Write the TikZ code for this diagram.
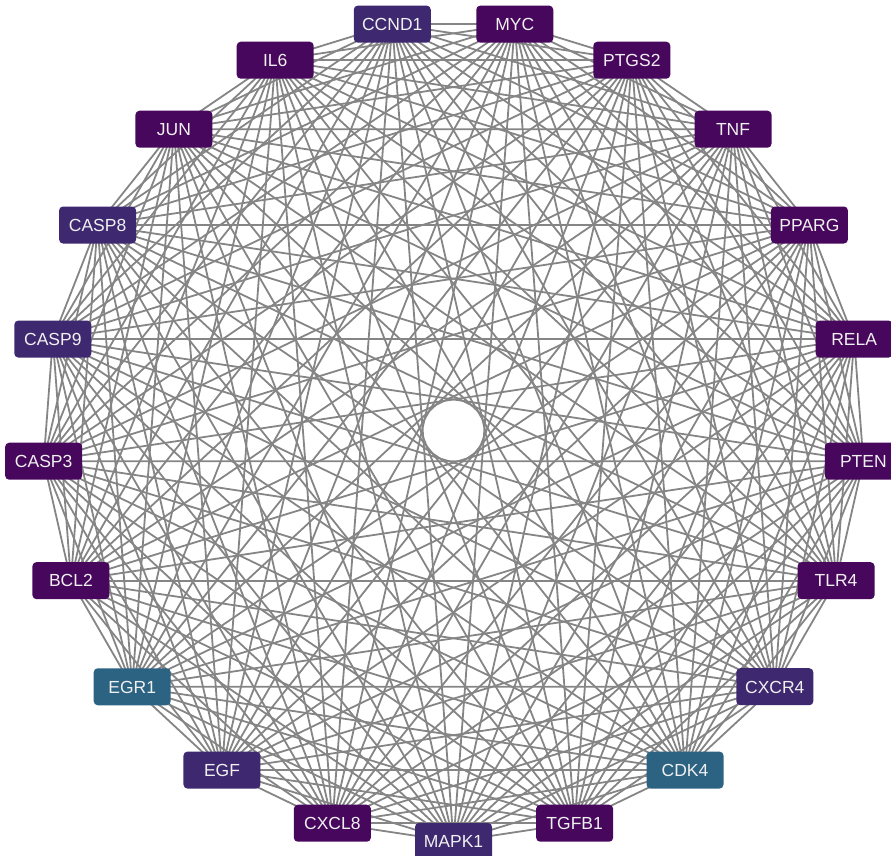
\documentclass[tikz,border=0pt]{standalone}
\usepackage{fontspec}
\setmainfont{Liberation Sans}
\definecolor{dk}{HTML}{46075C}
\definecolor{md}{HTML}{3E2870}
\definecolor{tl}{HTML}{2C6383}
\definecolor{edgegray}{HTML}{858585}
\begin{document}
\begin{tikzpicture}[x=1pt,y=-1pt,
  gene/.style={fill=#1, rounded corners=4pt, minimum width=77pt, minimum height=37pt,
    text=white!94!black, font=\fontsize{17.5}{20}\selectfont, inner sep=0pt,
    text height=12.6pt, text depth=0pt},
  link/.style={draw=edgegray, line width=1.8pt}]
\useasboundingbox (0,0) rectangle (891,855);
\foreach \i in {0,...,20} {
  \coordinate (p\i) at ({453.5+411*cos(-90+\i*360/21)}, {430.5-411*sin(-90+\i*360/21)});
}
\foreach \i in {0,...,19} {
  \pgfmathtruncatemacro\nxt{\i+1}
  \foreach \j in {\nxt,...,20} {
    \draw[link] (p\i) -- (p\j);
  }
}
\foreach \name/\col [count=\i from 0] in {MAPK1/md, TGFB1/dk, CDK4/tl, CXCR4/md, TLR4/dk, PTEN/dk, RELA/dk, PPARG/dk, TNF/dk, PTGS2/dk, MYC/dk, CCND1/md, IL6/dk, JUN/dk, CASP8/md, CASP9/md, CASP3/dk, BCL2/dk, EGR1/tl, EGF/md, CXCL8/dk} {
  \node[gene=\col] (n\i) at (p\i) {\name};
}
\end{tikzpicture}
\end{document}
